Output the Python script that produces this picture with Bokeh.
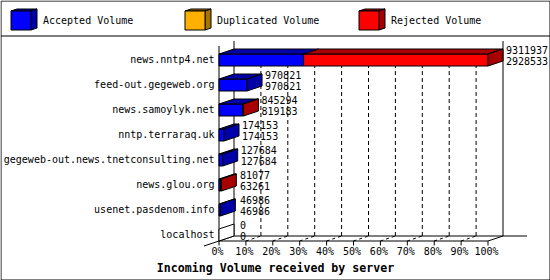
from bokeh.plotting import figure
from bokeh.models import Range1d
from bokeh.core.properties import value
from bokeh.embed import file_html
from bokeh.resources import INLINE

# ---------------- data ----------------
servers = ["news.nntp4.net", "feed-out.gegeweb.org", "news.samoylyk.net",
           "nntp.terraraq.uk", "gegeweb-out.news.tnetconsulting.net",
           "news.glou.org", "usenet.pasdenom.info", "localhost"]
total_volume = [9311937, 970821, 845294, 174153, 127684, 81077, 46986, 0]
accepted_volume = [2928533, 970821, 819183, 174153, 127684, 63261, 46986, 0]
duplicated_volume = [0, 0, 0, 0, 0, 0, 0, 0]
series_names = ["Accepted Volume", "Duplicated Volume", "Rejected Volume"]
tick_values = [0, 10, 20, 30, 40, 50, 60, 70, 80, 90, 100]
tick_labels = ["0%", "10%", "20%", "30%", "40%", "50%", "60%", "70%", "80%", "90%", "100%"]
x_title = "Incoming Volume received by server"

# ---------------- styles ----------------
series_front = ["#0000FF", "#FFB000", "#FF0000"]
series_dark = ["#0000A8", "#A87400", "#A80000"]
MONO = value("DejaVu Sans Mono")

# ---------------- layout (pixel based helpers) ----------------
W, H = 550, 280
PX0, PX100 = 218.5, 487.5          # front plane 0% / 100%
PPP = (PX100 - PX0) / 100.0
ROW_PY0, ROW_STEP = 59.0, 25.0


def X(px):
    return (px - PX0) / PPP


def Y(py):
    return (py - ROW_PY0) / ROW_STEP


def DX(px):
    return px / PPP


def DY(py):
    return py / ROW_STEP


DEPTH_X, DEPTH_Y = DX(15), DY(-5)
BAR_TOP, BAR_BOT = DY(-5.5), DY(6.5)

p = figure(width=W, height=H, x_range=Range1d(X(0), X(W)), y_range=Range1d(Y(H), Y(0)),
           min_border=0, x_axis_location=None, y_axis_location=None,
           toolbar_location=None, output_backend="svg",
           background_fill_color="white", border_fill_color="white",
           outline_line_color=None)
p.title.visible = False
p.grid.visible = False

# outer border and legend separator
p.quad(left=[X(0.5)], right=[X(549.5)], top=[Y(0.5)], bottom=[Y(279.5)],
       fill_color=None, line_color="black", line_width=1)
p.segment(x0=[X(0.5)], y0=[Y(35.5)], x1=[X(549.5)], y1=[Y(35.5)], line_color="black")

# ---------------- legend ----------------
legend_px = [10.5, 184.5, 358.5]
for k, name in enumerate(series_names):
    x0 = X(legend_px[k]); x1 = X(legend_px[k] + 20)
    yt = Y(10.5); yb = Y(29.5)
    ddx, ddy = DX(6), DY(-2)
    xs = [[x0, x1, x1 + ddx, x0 + ddx],
          [x1, x1 + ddx, x1 + ddx, x1],
          [x0, x1, x1, x0]]
    ys = [[yt, yt, yt + ddy, yt + ddy],
          [yt, yt + ddy, yb + ddy, yb],
          [yt, yt, yb, yb]]
    p.patches(xs, ys, fill_color=[series_dark[k], series_dark[k], series_front[k]],
              line_color="black", line_width=1)
    p.text(x=[X(legend_px[k] + 32)], y=[Y(20)], text=[name], text_font=MONO,
           text_font_size="10px", text_baseline="middle", text_align="left", text_color="black")

# ---------------- 3D frame ----------------
bottom_back = Y(235.5)
bottom_front = Y(240.5)
top_back = Y(40.5)
top_front = Y(45.5)
frame_x0 = [X(233.5), 100 + DEPTH_X, X(233.5), 0, 0, X(203.5), 100]
frame_y0 = [top_back, top_back, bottom_back, top_front, bottom_front, Y(245.5), bottom_front]
frame_x1 = [X(233.5), 100 + DEPTH_X, X(526.5), 0, 100, DEPTH_X, 100 + DEPTH_X]
frame_y1 = [bottom_back, bottom_back, bottom_back, bottom_front, bottom_front, bottom_back, bottom_back]
p.segment(x0=frame_x0, y0=frame_y0, x1=frame_x1, y1=frame_y1, line_color="black", line_width=1)

# back grid lines (dashed) and floor depth lines
inner = [t for t in tick_values if 0 < t < 100]
p.segment(x0=[t + DEPTH_X for t in inner], y0=[bottom_back] * len(inner),
          x1=[t + DEPTH_X for t in inner], y1=[Y(48)] * len(inner),
          line_color="black", line_width=1, line_dash="4 3")
p.segment(x0=inner, y0=[bottom_front] * len(inner),
          x1=[t + DEPTH_X for t in inner], y1=[bottom_back] * len(inner),
          line_color="black", line_width=1, line_dash="3 3")
# tick marks
p.segment(x0=tick_values, y0=[bottom_front] * len(tick_values),
          x1=tick_values, y1=[Y(245)] * len(tick_values), line_color="black", line_width=1)
p.text(x=[t - DX(1.5) for t in tick_values], y=[Y(251)] * len(tick_values), text=tick_labels,
       text_font=MONO, text_font_size="10px", text_align="center", text_baseline="middle",
       text_color="black")

# ---------------- bars ----------------
max_total = max(total_volume)
bxs, bys, bcol = [], [], []
lab_x, lab_y, lab_t = [], [], []
for i in range(len(servers)):
    rejected = total_volume[i] - accepted_volume[i] - duplicated_volume[i]
    vals = [accepted_volume[i], duplicated_volume[i], rejected]
    top = i + BAR_TOP
    bot = i + BAR_BOT
    start = 0.0
    segs = []
    for k, v in enumerate(vals):
        if v > 0:
            end = start + v / max_total * 100.0
            segs.append((start, end, k))
            start = end
    for a, b, k in segs:
        bxs.append([a, b, b, a]); bys.append([top, top, bot, bot]); bcol.append(series_front[k])
        bxs.append([a, b, b + DEPTH_X, a + DEPTH_X])
        bys.append([top, top, top + DEPTH_Y, top + DEPTH_Y]); bcol.append(series_dark[k])
    if segs:
        b, k = segs[-1][1], segs[-1][2]
        side_col = series_dark[k]
    else:
        b, side_col = 0.0, "white"
    bxs.append([b, b + DEPTH_X, b + DEPTH_X, b])
    bys.append([top, top + DEPTH_Y, bot + DEPTH_Y, bot]); bcol.append(side_col)
    lx = max(b + DEPTH_X + DX(3), X(239.5))
    lab_x += [lx, lx]
    lab_y += [i + DY(-9.5), i + DY(1.5)]
    lab_t += [str(total_volume[i]), str(accepted_volume[i])]

p.patches(bxs, bys, fill_color=bcol, line_color="black", line_width=1)

p.text(x=lab_x, y=lab_y, text=lab_t, text_font=MONO, text_font_size="10px",
       text_align="left", text_baseline="middle", text_color="black")

# category labels
p.text(x=[X(214)] * len(servers), y=list(range(len(servers))), text=servers,
       text_font=MONO, text_font_size="10px", text_align="right",
       text_baseline="middle", text_color="black")

# axis title
p.text(x=[X(275)], y=[Y(267)], text=[x_title], text_font=MONO, text_font_size="11.6px",
       text_font_style="bold", text_align="center", text_baseline="middle", text_color="black")

open("out.html", "w").write(file_html(p, INLINE))
